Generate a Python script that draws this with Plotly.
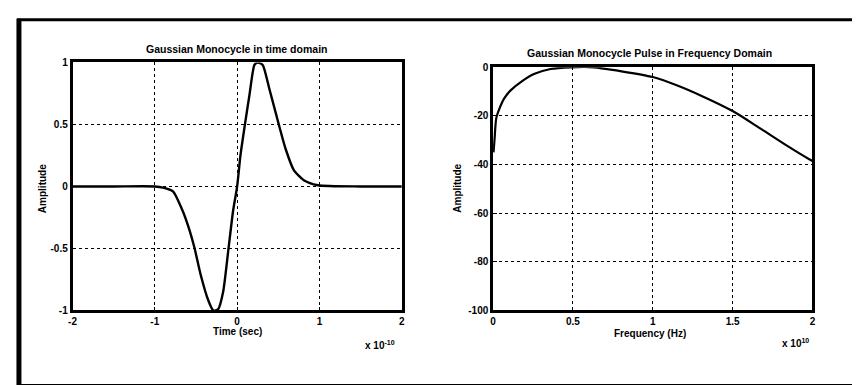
import plotly.graph_objects as go

# ---- data ----
# Left: time (x 1e-10 s) vs amplitude
time_vals = [-2.0, -1.5, -1.0, -0.9, -0.78, -0.66, -0.58, -0.52, -0.44, -0.35, -0.29,
             -0.23, -0.17, -0.11, -0.05, 0.0, 0.04, 0.09, 0.15, 0.21, 0.25, 0.31,
             0.39, 0.51, 0.59, 0.69, 0.81, 0.98, 1.5, 2.0]
amp_vals = [0.0, 0.0, 0.0, -0.01, -0.04, -0.2, -0.35, -0.49, -0.72, -0.92, -1.0,
            -0.99, -0.85, -0.53, -0.2, 0.0, 0.25, 0.48, 0.74, 0.98, 1.0, 0.98,
            0.79, 0.49, 0.30, 0.13, 0.05, 0.01, 0.0, 0.0]

# Right: frequency (x 1e10 Hz) vs amplitude (dB)
freq_vals = [0.003, 0.01, 0.02, 0.04, 0.07, 0.11, 0.18, 0.26, 0.36, 0.49, 0.63,
             0.78, 1.0, 1.15, 1.32, 1.5, 1.67, 1.83, 1.98, 2.0]
db_vals = [-35, -29, -21, -17, -12.8, -9.5, -5.8, -2.7, -0.7, 0.0, 0.0,
           -1.4, -4.0, -7.4, -12.2, -18.0, -25.0, -31.8, -37.8, -38.5]

left_xticks = [-2, -1, 0, 1, 2]
left_xtick_text = ["-2", "-1", "0", "1", "2"]
left_yticks = [-1, -0.5, 0, 0.5, 1]
left_ytick_text = ["-1", "-0.5", "0", "0.5", "1"]
right_xticks = [0, 0.5, 1, 1.5, 2]
right_xtick_text = ["0", "0.5", "1", "1.5", "2"]
right_yticks = [-100, -80, -60, -40, -20, 0]
right_ytick_text = ["-100", "-80", "-60", "-40", "-20", "0"]

titles = ["Gaussian Monocycle in time domain", "Gaussian Monocycle Pulse in Frequency Domain"]
xlabels = ["Time (sec)", "Frequency (Hz)"]
ylabel = "Amplitude"
multipliers = ["x 10<sup>-10</sup>", "x 10<sup>10</sup>"]

W, H = 860, 385
FONT = "Liberation Sans, Arial, sans-serif"

def px(x):
    return x / W

def py(y):
    return 1 - y / H

def bold(labels):
    return ["<b>" + t + "</b>" for t in labels]

fig = go.Figure()
fig.add_trace(go.Scatter(x=time_vals, y=amp_vals, mode="lines",
                         line=dict(color="black", width=2.4, shape="spline", smoothing=0.6),
                         xaxis="x", yaxis="y", showlegend=False))
fig.add_trace(go.Scatter(x=freq_vals, y=db_vals, mode="lines",
                         line=dict(color="black", width=2.2, shape="spline", smoothing=0.8),
                         xaxis="x2", yaxis="y2", showlegend=False))

tickfont = dict(family=FONT, size=10, color="black")
common = dict(showline=True, mirror=True, linecolor="black", linewidth=2.5,
              showgrid=True, gridcolor="black", griddash="dot", gridwidth=1.2,
              zeroline=False, ticks="inside", ticklen=4, tickcolor="black",
              tickfont=tickfont, fixedrange=True)

fig.update_layout(
    width=W, height=H, margin=dict(l=0, r=0, t=0, b=0),
    paper_bgcolor="white", plot_bgcolor="white",
    xaxis=dict(domain=[px(61), px(393)], range=[-2, 2], tickvals=left_xticks,
               ticktext=bold(left_xtick_text), anchor="y", **common),
    yaxis=dict(domain=[py(306), py(50)], range=[-1, 1], tickvals=left_yticks,
               ticktext=bold(left_ytick_text), anchor="x", **common),
    xaxis2=dict(domain=[px(485), px(807)], range=[0, 2], tickvals=right_xticks,
                ticktext=bold(right_xtick_text), anchor="y2", **common),
    yaxis2=dict(domain=[py(306), py(55)], range=[-100, 0], tickvals=right_yticks,
                ticktext=bold(right_ytick_text), anchor="x2", **common),
)

def ann(text, x, y, size=11, angle=0):
    fig.add_annotation(text=text, x=px(x), y=py(y), xref="paper", yref="paper",
                       showarrow=False, textangle=angle, xanchor="center", yanchor="middle",
                       font=dict(family=FONT, size=size, color="black"))

ann("<b>" + titles[0] + "</b>", 226, 36, 10.5)
ann("<b>" + titles[1] + "</b>", 643, 40, 10.5)
ann("<b>" + xlabels[0] + "</b>", 227, 328, 10)
ann("<b>" + xlabels[1] + "</b>", 643, 330, 10)
ann("<b>" + ylabel + "</b>", 31, 180, 10, -90)
ann("<b>" + ylabel + "</b>", 449, 180, 10, -90)
ann("<b>" + multipliers[0] + "</b>", 371, 342, 10)
ann("<b>" + multipliers[1] + "</b>", 790, 340, 10)

# outer frame of the scanned figure
fig.add_shape(type="line", xref="paper", yref="paper", x0=px(5), x1=1, y0=py(6), y1=py(6),
              line=dict(color="black", width=3))
fig.add_shape(type="line", xref="paper", yref="paper", x0=px(7), x1=px(7), y0=py(5), y1=py(383),
              line=dict(color="black", width=5))
fig.add_shape(type="line", xref="paper", yref="paper", x0=px(7), x1=1, y0=py(383), y1=py(383),
              line=dict(color="black", width=2))

fig.write_html("out.html")
